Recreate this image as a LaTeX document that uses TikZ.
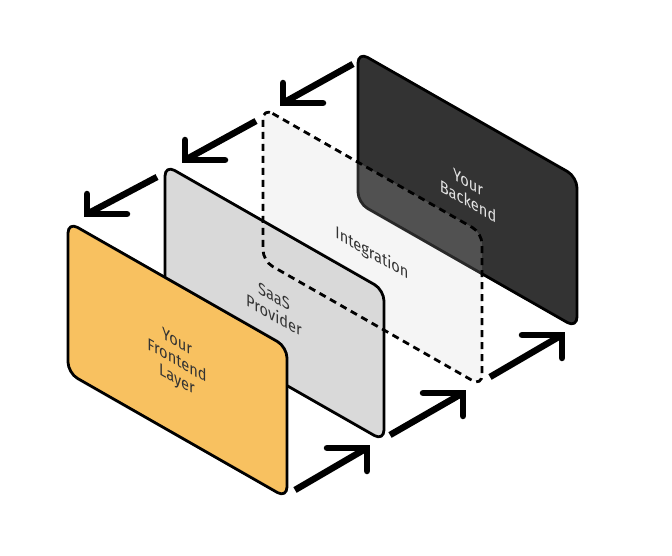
\documentclass[tikz,border=0pt]{standalone}
\usepackage{fontspec}
\setmainfont{Fira Sans}[FakeStretch=0.86]
\usepackage{xcolor}
\usepackage{tikz}
\definecolor{frontfill}{HTML}{F8C160}
\definecolor{saasfill}{HTML}{D9D9D9}
\definecolor{backfill}{HTML}{333333}
\definecolor{integfill}{HTML}{CCCCCC}
\definecolor{labeldark}{HTML}{333333}
\definecolor{labellight}{HTML}{E4E4E4}
\tikzset{
  panel/.style      = {draw=black, line width=2.8pt, rounded corners=11pt,
                       line join=round},
  dashpanel/.style  = {draw=black, line width=2.8pt, rounded corners=11pt,
                       dash pattern=on 7pt off 5pt},
  shaft/.style      = {line width=6.5pt, line cap=butt, shorten >=3pt},
  head/.style       = {line width=6.5pt, line cap=round, line join=miter},
  layerlabel/.style = {font=\fontsize{17}{19}\selectfont, align=center,
                       yslant=-0.57, text=labeldark, inner sep=1pt}
}

\begin{document}
\begin{tikzpicture}[x=1pt, y=-1pt]
  \useasboundingbox (0,0) rectangle (672,556);
  % back to front
  \draw[panel, fill=backfill] (358,52) -- (577,177) -- (577,328) -- (358,203) -- cycle;
  \fill[integfill, fill opacity=0.2, rounded corners=11pt]
    (263,108) -- (482,233) -- (482,386) -- (263,261) -- cycle;
  \draw[panel, fill=saasfill] (165,165) -- (384,290) -- (384,441) -- (165,316) -- cycle;
  \draw[dashpanel] (263,108) -- (482,233) -- (482,386) -- (263,261) -- cycle;
  \draw[panel, fill=frontfill] (68,222) -- (287,347) -- (287,498) -- (68,373) -- cycle;

  \node[layerlabel] (front) at (177,362) {Your\\Frontend\\Layer};
  \node[layerlabel] (saas)  at (274,306) {SaaS\\Provider};
  \node[layerlabel] (integ) at (372,254) {Integration};
  \node[layerlabel, text=labellight] (back) at (468,192) {Your\\Backend};

  % arrow ends
  \coordinate (topA-s) at (353,64);  \coordinate (topA-t) at (283,103);
  \coordinate (topB-s) at (256,121); \coordinate (topB-t) at (185,160);
  \coordinate (topC-s) at (157,177); \coordinate (topC-t) at (87,214);
  \coordinate (botD-s) at (295,490); \coordinate (botD-t) at (367,448);
  \coordinate (botE-s) at (390,435); \coordinate (botE-t) at (463,393);
  \coordinate (botF-s) at (490,377); \coordinate (botF-t) at (562,335);

  \foreach \a in {topA,topB,topC} {
    \draw[shaft] (\a-s) -- (\a-t);
    \draw[head] (\a-t) ++(0,-20) -- (\a-t) -- ++(40,0);
  }
  \foreach \a in {botD,botE,botF} {
    \draw[shaft] (\a-s) -- (\a-t);
    \draw[head] (\a-t) ++(-40,0) -- (\a-t) -- ++(0,23);
  }
\end{tikzpicture}
\end{document}
